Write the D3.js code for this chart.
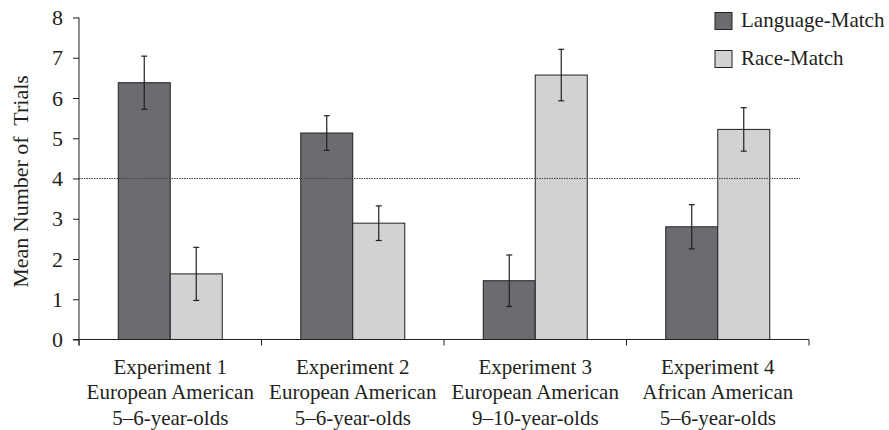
<!DOCTYPE html>
<html>
<head>
<meta charset="utf-8">
<script src="https://cdn.jsdelivr.net/npm/d3@7/dist/d3.min.js"></script>
<style>
  html, body { margin: 0; padding: 0; background: #fff; }
  svg text { font-family: "Liberation Serif", Tinos, "Times New Roman", Times, serif !important; fill: #231f20; }
</style>
</head>
<body>
<svg id="chart" width="889" height="430"></svg>
<script>
const categories = [
  ["Experiment 1", "European American", "5\u20136-year-olds"],
  ["Experiment 2", "European American", "5\u20136-year-olds"],
  ["Experiment 3", "European American", "9\u201310-year-olds"],
  ["Experiment 4", "African American", "5\u20136-year-olds"]
];
const seriesNames = ["Language-Match", "Race-Match"];
const languageMatch = [6.38, 5.13, 1.46, 2.80];
const raceMatch = [1.63, 2.89, 6.57, 5.22];
const languageErr = [0.66, 0.43, 0.64, 0.55];
const raceErr = [0.66, 0.43, 0.64, 0.54];
const yTicks = [0, 1, 2, 3, 4, 5, 6, 7, 8];
const chanceLevel = 4;

(function () {
const colors = ["#6b6c70", "#d1d2d4"];
const ink = "#231f20";
const serifFont = "'Liberation Serif', Tinos, 'Times New Roman', Times, serif";
const fs = 21;

const svg = d3.select("#chart").attr("font-family", serifFont);
const mLeft = 79, mRight = 809, mTop = 17.5, mBottom = 339.5;

const x0 = d3.scaleBand().domain(d3.range(categories.length)).range([mLeft, mRight]).paddingInner(0).paddingOuter(0);
const x1 = d3.scaleBand().domain([0, 1]).range([x0.bandwidth() / 2 - 52, x0.bandwidth() / 2 + 52]).padding(0);
const y = d3.scaleLinear().domain([0, 8]).range([mBottom, mTop]);

const series = [languageMatch, raceMatch];
const errs = [languageErr, raceErr];

const groups = svg.append("g").selectAll("g")
  .data(categories.map((c, i) => i))
  .join("g")
  .attr("transform", i => `translate(${x0(i)},0)`);

groups.selectAll("rect")
  .data(i => series.map((s, k) => ({ k, v: s[i], e: errs[k][i] })))
  .join("rect")
  .attr("x", d => x1(d.k))
  .attr("y", d => y(d.v))
  .attr("width", x1.bandwidth())
  .attr("height", d => y(0) - y(d.v))
  .attr("fill", d => colors[d.k])
  .attr("stroke", ink)
  .attr("stroke-width", 1);

svg.append("line")
  .attr("x1", mLeft).attr("x2", 800)
  .attr("y1", y(chanceLevel)).attr("y2", y(chanceLevel))
  .attr("stroke", "#444").attr("stroke-width", 1)
  .attr("stroke-dasharray", "1.5,1");

groups.selectAll("g.err")
  .data(i => series.map((s, k) => ({ k, v: s[i], e: errs[k][i] })))
  .join("g")
  .attr("class", "err")
  .each(function(d) {
    const g = d3.select(this);
    const cx = x1(d.k) + x1.bandwidth() / 2;
    g.append("line").attr("x1", cx).attr("x2", cx).attr("y1", y(d.v + d.e)).attr("y2", y(d.v - d.e))
      .attr("stroke", ink).attr("stroke-width", 1.2);
    [d.v + d.e, d.v - d.e].forEach(val => {
      g.append("line").attr("x1", cx - 3).attr("x2", cx + 3).attr("y1", y(val)).attr("y2", y(val))
        .attr("stroke", ink).attr("stroke-width", 1.2);
    });
  });

const yAxis = d3.axisLeft(y).tickValues(yTicks).tickSize(6).tickPadding(10).tickFormat(d3.format("d"));
const ya = svg.append("g").attr("transform", `translate(${mLeft},0)`).call(yAxis);
ya.attr("font-family", serifFont).attr("font-size", fs + 1);
ya.select(".domain").attr("d", `M0,${mTop}V${mBottom + 6}`).attr("stroke", ink);
ya.selectAll(".tick line").attr("stroke", ink);
ya.selectAll(".tick text").attr("fill", ink);

const xa = svg.append("g").attr("transform", `translate(0,${mBottom})`);
xa.append("line").attr("x1", mLeft - 6).attr("x2", mRight).attr("y1", 0).attr("y2", 0).attr("stroke", ink);
const boundaries = d3.range(categories.length + 1).map(i => i < categories.length ? x0(i) : x0(i - 1) + x0.bandwidth());
xa.selectAll("line.tk").data(boundaries).join("line").attr("class", "tk")
  .attr("x1", d => d).attr("x2", d => d).attr("y1", 0).attr("y2", 6).attr("stroke", ink);

const labels = svg.append("g").selectAll("text")
  .data(categories.map((c, i) => ({ c, i })))
  .join("text")
  .attr("text-anchor", "middle")
  .attr("font-size", fs)
  .attr("x", d => x0(d.i) + x0.bandwidth() / 2)
  .attr("y", 373.5);
labels.selectAll("tspan")
  .data(d => d.c.map(line => ({ line, x: x0(d.i) + x0.bandwidth() / 2 })))
  .join("tspan")
  .attr("x", d => d.x)
  .attr("dy", (d, j) => j === 0 ? 0 : 25.5)
  .text(d => d.line);

svg.append("text")
  .attr("transform", `translate(28,181.5) rotate(-90)`)
  .attr("text-anchor", "middle")
  .attr("font-size", fs + 1)
  .attr("xml:space", "preserve")
  .style("white-space", "pre")
  .text("Mean Number of  Trials");

const legend = svg.append("g").selectAll("g").data(seriesNames).join("g")
  .attr("transform", (d, i) => `translate(715,${12.5 + i * 38})`);
legend.append("rect").attr("width", 17).attr("height", 17)
  .attr("fill", (d, i) => colors[i]).attr("stroke", ink).attr("stroke-width", 1);
legend.append("text").attr("x", 26).attr("y", 14.5).attr("font-size", fs).text(d => d);
})();
</script>
</body>
</html>
